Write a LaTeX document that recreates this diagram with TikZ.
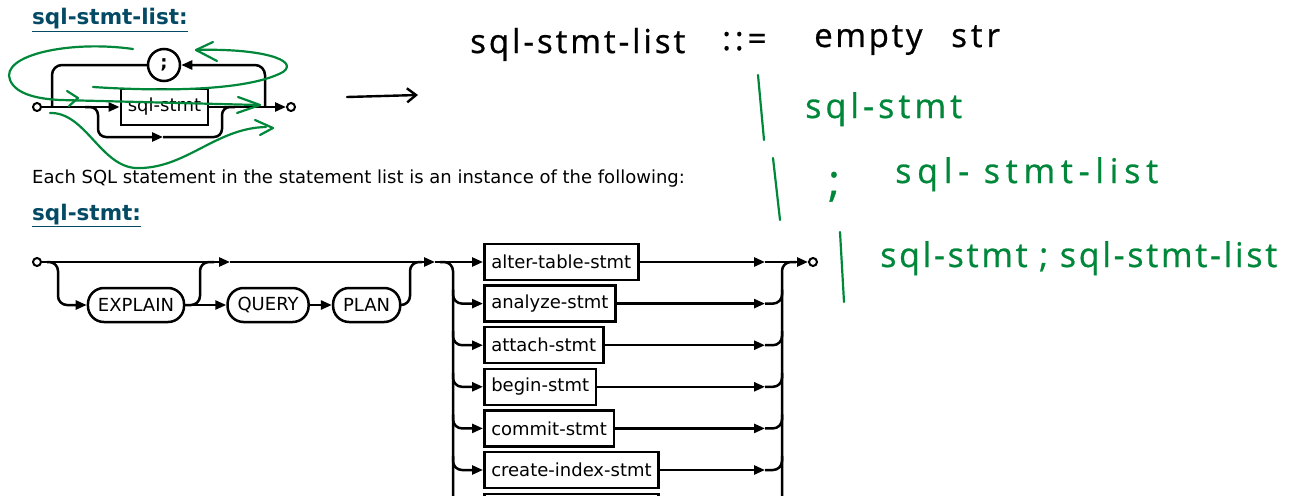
\documentclass[tikz,border=0pt]{standalone}
\usepackage{fontspec}
\setmainfont{DejaVu Sans}
\newfontfamily\handfont[LetterSpace=12,FakeBold=0.8]{Open Sans}
\usetikzlibrary{arrows.meta,positioning,calc}
\definecolor{titleblue}{HTML}{044A64}
\definecolor{inkgreen}{HTML}{00873A}

\begin{document}
\begin{tikzpicture}[x=1pt,y=-1pt,
    rail/.style={line width=2.5pt, line join=round},
    arrowed/.style={-{Triangle[length=11pt,width=9pt]}},
    ntbox/.style={draw, line width=2.5pt, inner xsep=7pt, inner ysep=0pt,
        minimum height=36pt, font=\fontsize{18}{21}\selectfont},
    kwbox/.style={ntbox, rounded corners=16pt, inner xsep=10pt, minimum height=34pt},
    endpt/.style={circle, draw, line width=2pt, minimum size=8pt, inner sep=0pt, fill=white},
    title/.style={anchor=base west, inner sep=0pt, text=titleblue,
        font=\bfseries\fontsize{21.5}{25}\selectfont},
    hand/.style={anchor=base west, inner sep=0pt, font=\handfont\fontsize{33}{38}\selectfont},
    greenhand/.style={hand, text=inkgreen, font=\handfont\fontsize{34}{40}\selectfont},
    pen/.style={draw=inkgreen, line width=2.2pt, line cap=round, line join=round},
  ]
  \useasboundingbox (0,0) rectangle (1305,495);
  \clip (0,0) rectangle (1305,495);

  % headings and note
  \node[title] (t1) at (32,25) {\underline{sql-stmt-list:}};
  \node[title] (t2) at (32,220) {\underline{sql-stmt:}};
  \node[anchor=base west, inner sep=0pt, font=\fontsize{18}{21}\selectfont] (note) at (32,183)
    {Each SQL statement in the statement list is an instance of the following:};

  % sql-stmt-list diagram
  \node[endpt] (s1) at (37,107) {};
  \node[ntbox] (stmt) at (164.5,107) {sql-stmt};
  \node[circle, draw, line width=2.5pt, minimum size=32pt, inner sep=0pt,
        font=\bfseries\fontsize{18}{21}\selectfont] (semi) at (164,65) {;};
  \node[endpt] (e1) at (291,107) {};
  \coordinate (lpL) at (52,107);
  \coordinate (lpR) at (265,107);
  \coordinate (byL) at (85,107);
  \coordinate (byM) at (163,137);
  \coordinate (byR) at (235,107);

  \draw[rail,arrowed] (s1) -- (stmt);
  \draw[rail,arrowed] (stmt) -- (e1);
  \draw[rail,arrowed,rounded corners=10pt] (lpR) |- (semi.east);
  \draw[rail,rounded corners=10pt] (semi.west) -| (lpL);
  \draw[rail,arrowed,rounded corners=8pt] (byL) -| (98,137) -- (byM);
  \draw[rail,rounded corners=8pt] (byM) -| (222,107) -- (byR);

  % sql-stmt diagram, prefix part
  \node[endpt] (s2) at (37,262) {};
  \node[kwbox] (explain) at (136,305) {EXPLAIN};
  \node[kwbox, right=41pt of explain] (query) {QUERY};
  \node[kwbox, right=22pt of query] (plan) {PLAN};
  \coordinate (dn) at (47,262);
  \coordinate (j1) at (230,262);
  \coordinate (j2) at (435,262);

  \draw[rail,arrowed] (s2) -- (j1);
  \draw[rail,arrowed] (j1) -- (j2);
  \draw[rail,arrowed,rounded corners=9pt] (dn) -| (58,305) -- (explain.west);
  \draw[rail,arrowed] (explain) -- (query);
  \draw[rail,arrowed] (query) -- (plan);
  \draw[rail,rounded corners=9pt] (explain.east) -| (200,262) -- (214,262);
  \draw[rail,rounded corners=9pt] (plan.east) -| (410,262) -- (422,262);

  % sql-stmt diagram, statement choices
  \coordinate (lr) at (453,0);
  \coordinate (ax) at (765,0);
  \coordinate (rr) at (782,0);
  \foreach \name [count=\i from 0] in {alter-table-stmt, analyze-stmt, attach-stmt,
      begin-stmt, commit-stmt, create-index-stmt}
    \node[ntbox, anchor=west] (st\i) at (483,{262+41.6*\i}) {\name};
  \node[ntbox, anchor=west, minimum width=174pt] (st6) at (483,512) {};
  \node[endpt] (e2) at (813,262) {};

  \draw[rail,arrowed] (j2) -- (st0);
  \draw[rail,rounded corners=9pt] (440,262) -| (453,500);
  \draw[rail,rounded corners=9pt] (782,500) |- (796,262);
  \foreach \i in {0,...,6}
    \draw[rail,arrowed] (st\i.east) -- (st\i.east -| ax);
  \foreach \i in {1,...,6} {
    \draw[rail,arrowed,rounded corners=9pt] ($(st\i.west -| lr)+(0,-14)$) |- (st\i.west);
    \draw[rail,rounded corners=9pt] (st\i.east -| ax) -| ($(st\i.east -| rr)+(0,-14)$);
  }
  \draw[rail,arrowed] (st0.east -| ax) -- (e2);

  % handwritten grammar
  \coordinate (ha) at (347,97);
  \coordinate (hb) at (418,95);
  \draw[line width=2.4pt, line cap=round, -{Straight Barb[length=9pt,width=14pt]}] (ha) -- (hb);
  \node[hand, font=\handfont\addfontfeature{LetterSpace=9}\fontsize{33}{38}\selectfont]
    (lhs) at (470,53) {sql-stmt-list};
  \node[hand] (def) at (722,50) {::=};
  \node[hand, font=\handfont\addfontfeature{LetterSpace=8}\fontsize{33}{38}\selectfont]
    (emp) at (814,47) {empty};
  \node[hand] (str) at (951,47) {str};

  \draw[pen] (758,75) -- (764,140);
  \node[greenhand] (alt1) at (805,118) {sql-stmt};
  \draw[pen] (773,158) -- (780,220);
  \node[greenhand, font=\handfont\fontsize{44}{50}\selectfont] (alt2a) at (828,196) {;};
  \node[greenhand, font=\handfont\addfontfeature{LetterSpace=17}\fontsize{34}{40}\selectfont]
    (alt2b) at (895,183) {sql- stmt-list};
  \draw[pen] (840,232) -- (844,302);
  \node[greenhand, font=\handfont\addfontfeature{LetterSpace=8}\fontsize{34}{40}\selectfont]
    (alt3) at (880,267) {sql-stmt ; sql-stmt-list};

  % green path traces over the list diagram
  \draw[pen] (133,49) .. controls (70,40) and (0,55) .. (10,80)
    .. controls (16,95) and (40,99) .. (60,100) -- (258,105);
  \draw[pen] (67,91) -- (78,98) -- (69,106);
  \draw[pen] (238,97) -- (260,105) -- (237,113);
  \draw[pen] (93,87) .. controls (170,92) and (250,90) .. (283,72)
    .. controls (300,60) and (260,48) .. (196,50);
  \draw[pen] (213,42) -- (196,50) -- (217,61);
  \draw[pen] (50,113) .. controls (85,112) and (100,165) .. (135,168)
    .. controls (185,170) and (215,128) .. (266,127);
  \draw[pen] (255,120) -- (273,128) -- (260,135);
\end{tikzpicture}
\end{document}
